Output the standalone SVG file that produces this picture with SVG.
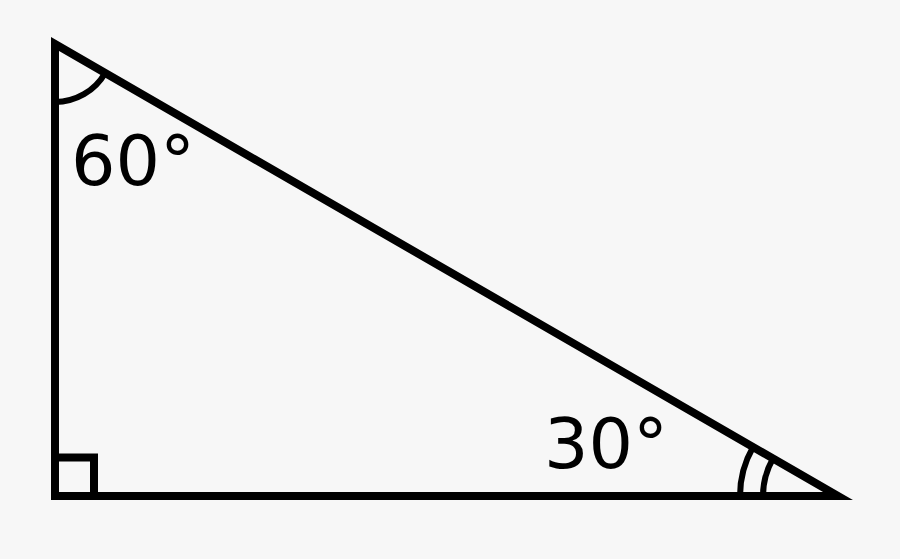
<svg xmlns="http://www.w3.org/2000/svg" width="900" height="559" viewBox="0 0 900 559">
<style>
.ln{fill:none;stroke:#000;stroke-width:8;stroke-linejoin:miter;stroke-miterlimit:4}
.arc{fill:none;stroke:#000;stroke-width:6}
.lbl{font-family:"DejaVu Sans",sans-serif;font-size:70px;fill:#000}
</style>
<rect width="900" height="559" fill="#f7f7f7"/>
<g id="triangle">
<polygon class="ln" points="55,44 55,496 838,496"/>
<path class="ln" d="M55 457.5 H94 V496"/>
<path class="arc" d="M55 102 A58 58 0 0 0 105.2 73"/>
<path class="arc" d="M740 496 A98 98 0 0 1 753.1 447"/>
<path class="arc" d="M763 496 A75 75 0 0 1 773 458.5"/>
</g>
<g id="labels">
<text class="lbl" x="71" y="185">60°</text>
<text class="lbl" x="544" y="468">30°</text>
</g>
</svg>
